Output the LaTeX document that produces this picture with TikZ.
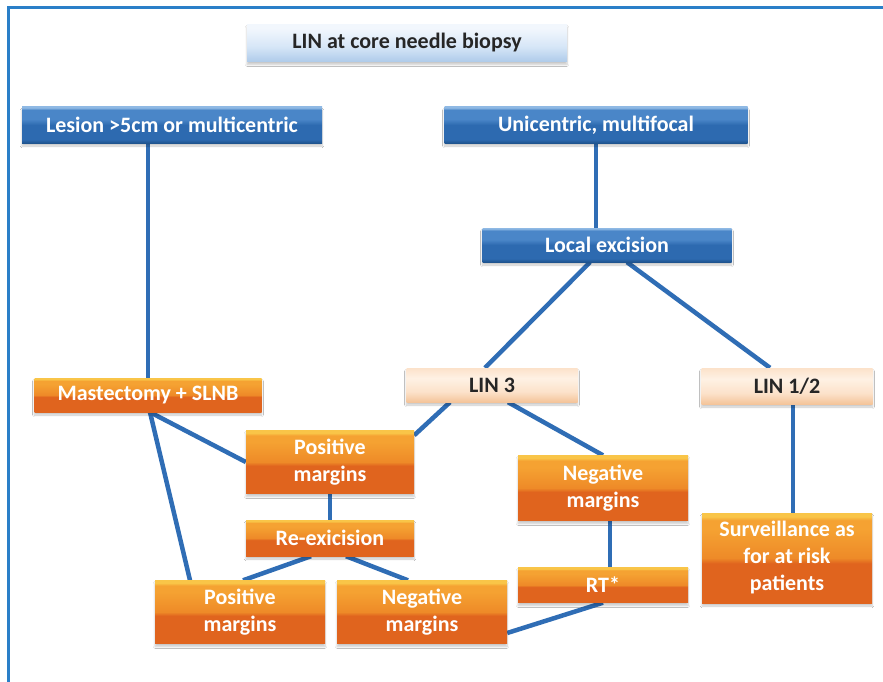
\documentclass[tikz,border=0pt]{standalone}
\usepackage{fontspec}
\setmainfont{Carlito}
\usetikzlibrary{backgrounds,shadows.blur}

\definecolor{frameblue}{HTML}{2A7FC8}
\definecolor{linkblue}{HTML}{2F6DB5}
% dark blue boxes
\definecolor{bTop}{HTML}{8FB9E4}
\definecolor{bLight}{HTML}{4A86C8}
\definecolor{bMid}{HTML}{2D6AB0}
\definecolor{bDark}{HTML}{1F548F}
% orange boxes
\definecolor{oTop}{HTML}{F9C548}
\definecolor{oLight}{HTML}{F5A232}
\definecolor{oMid}{HTML}{EE8A28}
\definecolor{oDark}{HTML}{E0641E}
% peach boxes
\definecolor{pTop}{HTML}{FEF1E4}
\definecolor{pMid}{HTML}{FCE2CA}
\definecolor{pDark}{HTML}{F4C49A}
% title box
\definecolor{tTop}{HTML}{F2F7FD}
\definecolor{tMid}{HTML}{D6E6F7}
\definecolor{tDark}{HTML}{AFCBEA}

\pgfdeclareverticalshading{blueshade}{100bp}{color(0bp)=(bDark); color(25bp)=(bDark); color(30bp)=(bMid); color(50bp)=(bMid); color(58bp)=(bLight); color(71bp)=(bLight); color(74bp)=(bTop); color(100bp)=(bTop)}
\pgfdeclareverticalshading{orangeshade}{100bp}{color(0bp)=(oDark); color(26bp)=(oDark); color(47bp)=(oDark); color(50bp)=(oMid); color(66bp)=(oLight); color(71bp)=(oLight); color(73bp)=(oTop); color(100bp)=(oTop)}
\pgfdeclareverticalshading{peachshade}{100bp}{color(0bp)=(pDark); color(25bp)=(pDark); color(40bp)=(pMid); color(60bp)=(pTop); color(75bp)=(pMid); color(100bp)=(pMid)}
\pgfdeclareverticalshading{titleshade}{100bp}{color(0bp)=(tDark); color(25bp)=(tDark); color(45bp)=(tMid); color(70bp)=(tTop); color(100bp)=(tTop)}

\tikzset{
  box/.style={rectangle, inner sep=0pt, align=center,
    font=\fontsize{22}{27}\selectfont\bfseries,
    blur shadow={shadow xshift=0pt, shadow yshift=-3pt, shadow opacity=22, shadow blur steps=6}},
  bluebox/.style={box, shading=blueshade, text=white},
  orangebox/.style={box, shading=orangeshade, text=white},
  peachbox/.style={box, shading=peachshade, text=black!85},
  titlebox/.style={box, shading=titleshade, text=black!85},
  link/.style={draw=linkblue, line width=4.5pt},
}

\begin{document}
\begin{tikzpicture}[x=1pt, y=-1pt]
  \useasboundingbox (0,0) rectangle (883,682);

  % nodes
  \node[titlebox, minimum width=320pt, minimum height=37pt] (title) at (407,43) {LIN at core needle biopsy};
  \node[bluebox, minimum width=300pt, minimum height=36pt] (les) at (172,125) {Lesion >5cm or multicentric};
  \node[bluebox, minimum width=303pt, minimum height=36pt] (uni) at (596,125) {Unicentric, multifocal};
  \node[bluebox, minimum width=249pt, minimum height=34pt] (loc) at (607,245) {Local excision};
  \node[orangebox, minimum width=227pt, minimum height=34pt] (mast) at (148,395) {Mastectomy + SLNB};
  \node[peachbox, minimum width=171pt, minimum height=34pt] (lin3) at (492,385) {LIN 3};
  \node[peachbox, minimum width=171pt, minimum height=36pt] (lin12) at (787,386) {LIN 1/2};
  \node[orangebox, minimum width=168pt, minimum height=63pt] (posA) at (330,462) {Positive\\margins};
  \node[orangebox, minimum width=170pt, minimum height=65pt] (negA) at (603,488) {Negative\\margins};
  \node[orangebox, minimum width=168pt, minimum height=36pt] (rex) at (330,538) {Re-exicision};
  \node[orangebox, minimum width=170pt, minimum height=90pt] (surv) at (787,558) {Surveillance as\\for at risk\\patients};
  \node[orangebox, minimum width=170pt, minimum height=35pt] (rt) at (603,585) {RT*};
  \node[orangebox, minimum width=170pt, minimum height=63pt] (posB) at (240,612) {Positive\\margins};
  \node[orangebox, minimum width=170pt, minimum height=63pt] (negB) at (422,612) {Negative\\margins};

  % page, frame and connectors sit behind the boxes
  \begin{scope}[on background layer]
    \fill[white] (0,0) rectangle (883,682);
    \draw[frameblue, line width=3pt] (8,690) -- (8,8) -- (890,8);
    \draw[link] (mast.north |- les.south) -- (mast.north);
    \draw[link] (uni.south) -- (uni.south |- loc.north);
    \draw[link] ([xshift=-17pt]loc.south) -- ([xshift=-7pt]lin3.north);
    \draw[link] ([xshift=20pt]loc.south) -- ([xshift=-17pt]lin12.north);
    \draw[link] ([xshift=2pt]mast.south) -- (posA.west);
    \draw[link] ([xshift=2pt]mast.south) -- ([xshift=-50pt]posB.north);
    \draw[link] ([xshift=-42pt]lin3.south) -- ([yshift=-5pt]posA.north east);
    \draw[link] ([xshift=16pt]lin3.south) -- (negA.north);
    \draw[link] (posA.south) -- (rex.north);
    \draw[link] ([xshift=-19pt]rex.south) -- ([xshift=3pt]posB.north);
    \draw[link] ([xshift=16pt]rex.south) -- ([xshift=-14pt]negB.north);
    \draw[link] ([xshift=7pt]negA.south) -- ([xshift=7pt]rt.north);
    \draw[link] (rt.south) -- ([yshift=-21pt]negB.east);
    \draw[link] ([xshift=6pt]lin12.south) -- ([xshift=6pt]surv.north);
  \end{scope}
\end{tikzpicture}
\end{document}
